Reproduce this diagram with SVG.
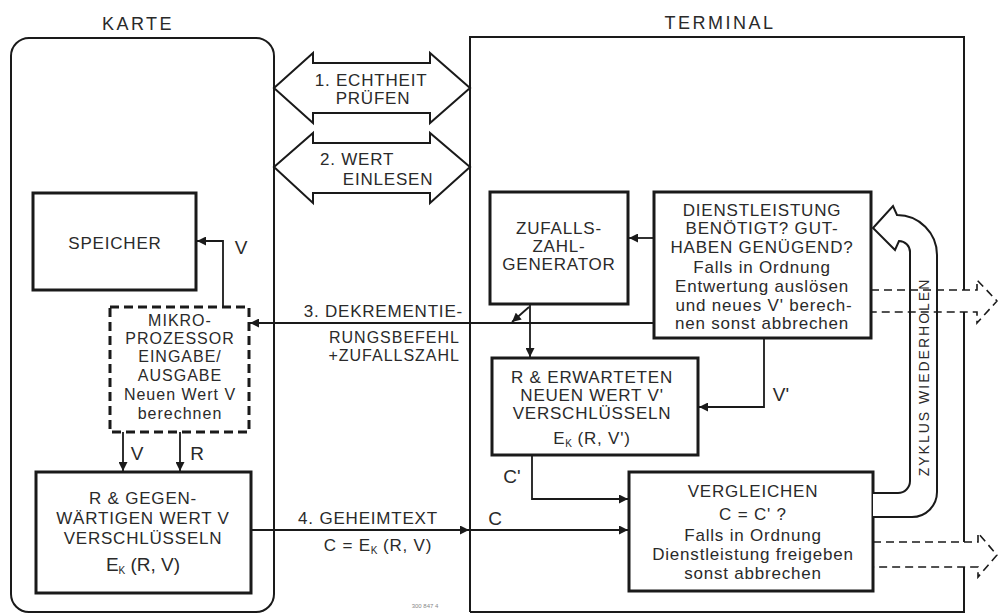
<svg xmlns="http://www.w3.org/2000/svg" width="998" height="614" viewBox="0 0 998 614">
<style>
text{font-family:"Liberation Sans",Arial,sans-serif;font-size:17px;letter-spacing:0.8px;fill:#2a2a2a;text-anchor:middle}
.s16{font-size:16px;letter-spacing:1px}
.title{font-size:18px;letter-spacing:2.5px}
.lbl{font-size:19px;letter-spacing:0}
.end{text-anchor:end}
.box{fill:#fff;stroke:#1a1a1a;stroke-width:3}
.dbox{fill:#fff;stroke:#1a1a1a;stroke-width:3;stroke-dasharray:9 5}
.cont{fill:none;stroke:#1a1a1a;stroke-width:2}
.fat{fill:#fff;stroke:#1a1a1a;stroke-width:2;stroke-linejoin:miter}
.ln{fill:none;stroke:#1a1a1a;stroke-width:1.8}
.ar{marker-end:url(#ah)}
.dash{fill:none;stroke:#1a1a1a;stroke-width:1.6;stroke-dasharray:8 5}
.sub{font-size:10px;letter-spacing:0}
</style>
<defs>
<marker id="ah" viewBox="0 0 10 10" refX="10" refY="5" markerWidth="10" markerHeight="9" markerUnits="userSpaceOnUse" orient="auto">
<path d="M0,0 L10,5 L0,10 z" fill="#1a1a1a"/>
</marker>
</defs>
<rect width="998" height="614" fill="#fff"/>

<g id="karte">
<rect class="cont" x="11" y="38" width="263" height="574" rx="18"/>
<text class="title" x="138" y="30">KARTE</text>
</g>

<g id="terminal">
<path class="cont" d="M470,612 V37 H964 V290 M964,312 V542 M964,567 V612 H470"/>
<text class="title" x="720" y="29">TERMINAL</text>
</g>

<g id="echtheit">
<polygon class="fat" points="274,88 313,53 313,63 430,63 430,53 470,88 430,123 430,113 313,113 313,123"/>
<text x="371" y="86">1. ECHTHEIT</text>
<text x="373" y="104">PRÜFEN</text>
</g>

<g id="wert-einlesen">
<polygon class="fat" points="274,167 313,133 313,143 430,143 430,133 470,167 430,203 430,193 313,193 313,203"/>
<text x="357" y="165">2. WERT</text>
<text x="388" y="185">EINLESEN</text>
</g>

<g id="speicher">
<rect class="box" x="33" y="193" width="163" height="97"/>
<text x="115" y="249">SPEICHER</text>
</g>

<g id="mikroprozessor">
<rect class="dbox" x="110" y="307" width="139" height="125"/>
<text class="s16" x="180" y="326">MIKRO-</text>
<text class="s16" x="180" y="344">PROZESSOR</text>
<text class="s16" x="180" y="362">EINGABE/</text>
<text class="s16" x="180" y="381">AUSGABE</text>
<text class="s16" x="180" y="400">Neuen Wert V</text>
<text class="s16" x="180" y="419">berechnen</text>
</g>

<g id="verschluesseln-karte">
<rect class="box" x="36" y="472" width="215" height="121"/>
<text x="143" y="504">R &amp; GEGEN-</text>
<text x="143" y="524">WÄRTIGEN WERT V</text>
<text x="143" y="544">VERSCHLÜSSELN</text>
<text class="lbl" x="143" y="571">E<tspan class="sub" dy="3">K</tspan><tspan dy="-3"> (R, V)</tspan></text>
</g>

<g id="zufallszahlgenerator">
<rect class="box" x="490" y="192" width="138" height="112"/>
<text x="559" y="234">ZUFALLS-</text>
<text x="559" y="252">ZAHL-</text>
<text x="559" y="270">GENERATOR</text>
</g>

<g id="dienstleistung">
<rect class="box" x="654" y="192" width="217" height="146"/>
<text x="762" y="216">DIENSTLEISTUNG</text>
<text x="762" y="234">BENÖTIGT? GUT-</text>
<text x="762" y="253">HABEN GENÜGEND?</text>
<text x="762" y="273">Falls in Ordnung</text>
<text x="762" y="292">Entwertung auslösen</text>
<text x="764" y="311">und neues V' berech-</text>
<text x="762" y="329">nen sonst abbrechen</text>
</g>

<g id="verschluesseln-terminal">
<rect class="box" x="492" y="358" width="206" height="97"/>
<text x="592" y="383">R &amp; ERWARTETEN</text>
<text x="592" y="401">NEUEN WERT V'</text>
<text x="592" y="419">VERSCHLÜSSELN</text>
<text x="592" y="444">E<tspan class="sub" dy="3">K</tspan><tspan dy="-3"> (R, V')</tspan></text>
</g>

<g id="vergleichen">
<rect class="box" x="629" y="472" width="244" height="119"/>
<text x="753" y="497">VERGLEICHEN</text>
<text x="753" y="520">C = C' ?</text>
<text x="753" y="541">Falls in Ordnung</text>
<text x="753" y="560">Dienstleistung freigeben</text>
<text x="753" y="579">sonst abbrechen</text>
</g>

<g id="zyklus">
<path class="fat" d="M873,517 H912 A25,25 0 0 0 937,492 V255 A40,40 0 0 0 897,215 L893,206 L873,228 L895,250 L899,241 A11,11 0 0 1 910,252 V481 A12,12 0 0 1 898,493 H873"/>
<text x="0" y="0" transform="translate(929,377) rotate(-90)" style="font-size:14px;letter-spacing:2px">ZYKLUS WIEDERHOLEN</text>
</g>

<g id="connectors">
<path class="ln ar" d="M223,307 V241 H197"/>
<path class="ln ar" d="M653,323 H250"/>
<path class="ln ar" d="M123,432 V471"/>
<path class="ln ar" d="M180,432 V471"/>
<path class="ln ar" d="M251,530 H469"/>
<path class="ln ar" d="M469,530 H628"/>
<path class="ln ar" d="M654,238 H629"/>
<path class="ln ar" d="M530,304 V357"/>
<path class="ln ar" d="M529,307 L512,322"/>
<path class="ln ar" d="M764,338 V407 H699"/>
<path class="ln ar" d="M532,455 V499 H628"/>
<path class="dash" d="M871,290 H977 V280 L997,301 L977,323 V312 H871"/>
<path class="dash" d="M873,542 H978 V533 L997,555 L978,577 V567 H873"/>
</g>

<g id="connector-labels">
<text class="lbl" x="241" y="254">V</text>
<text class="end" x="463" y="317">3. DEKREMENTIE-</text>
<text class="end s16" x="460" y="343">RUNGSBEFEHL</text>
<text class="end s16" x="460" y="361">+ZUFALLSZAHL</text>
<text class="lbl" x="137" y="460">V</text>
<text class="lbl" x="197" y="460">R</text>
<text x="368" y="524">4. GEHEIMTEXT</text>
<text x="378" y="551">C = E<tspan class="sub" dy="3">K</tspan><tspan dy="-3"> (R, V)</tspan></text>
<text class="lbl" x="495" y="525">C</text>
<text class="lbl" x="781" y="401">V'</text>
<text class="lbl" x="512" y="483">C'</text>
<text x="425" y="608" style="font-size:6px;letter-spacing:0;fill:#888">300 847 4</text>
</g>
</svg>
